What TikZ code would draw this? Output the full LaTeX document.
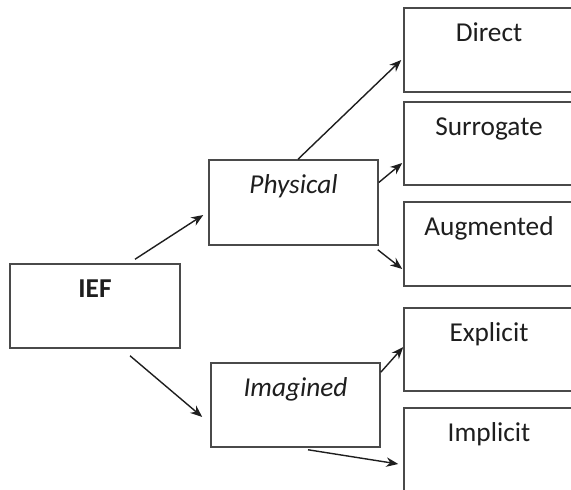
\documentclass[tikz,border=0pt]{standalone}
\usepackage{fontspec}
\setmainfont{Carlito}
\usetikzlibrary{arrows.meta}
\definecolor{boxline}{HTML}{4A4A4A}
\definecolor{ink}{HTML}{1E1E1E}
\begin{document}
\begin{tikzpicture}[x=1pt,y=-1pt,
  box/.style={draw=boxline, line width=1.5pt, rectangle, minimum width=170pt, minimum height=84pt, inner sep=0pt},
  lbl/.style={anchor=base, inner sep=0pt, text=ink, font=\fontsize{27.3}{32}\selectfont},
  link/.style={draw=ink, line width=1.4pt, -{Stealth[length=12pt,width=9.5pt]}}]
  \useasboundingbox (0,0) rectangle (571,490);
  \clip (0,0) rectangle (571,490);
  % boxes
  \node[box] (ief) at (95,306) {};
  \node[box, minimum width=169pt, minimum height=85pt] (phys) at (293.5,202.5) {};
  \node[box, minimum width=169pt] (imag) at (295.5,405) {};
  \node[box] (direct) at (489,50) {};
  \node[box, minimum height=83pt] (surr) at (489,143.5) {};
  \node[box] (aug) at (489,244) {};
  \node[box, minimum height=83pt] (expl) at (489,349.5) {};
  \node[box] (impl) at (489,450) {};
  % labels
  \node[lbl, font=\fontsize{27.3}{32}\selectfont\bfseries] (ief-t) at ([yshift=-34.5pt]ief.north) {IEF};
  \node[lbl, font=\fontsize{27.3}{32}\selectfont\itshape] (phys-t) at ([yshift=-34.5pt]phys.north) {Physical};
  \node[lbl, font=\fontsize{27.3}{32}\selectfont\itshape] (imag-t) at ([yshift=-34.5pt]imag.north) {Imagined};
  \node[lbl] (direct-t) at ([yshift=-34.5pt]direct.north) {Direct};
  \node[lbl] (surr-t) at ([yshift=-34.5pt]surr.north) {Surrogate};
  \node[lbl] (aug-t) at ([yshift=-34pt]aug.north) {Augmented};
  \node[lbl] (expl-t) at ([yshift=-34pt]expl.north) {Explicit};
  \node[lbl] (impl-t) at ([yshift=-34pt]impl.north) {Implicit};
  % connectors
  \draw[link] ([shift={(40,-4)}]ief.north) -- ([shift={(-5,12.5)}]phys.west);
  \draw[link] ([shift={(35,7)}]ief.south) -- ([shift={(-8,12)}]imag.west);
  \draw[link] ([shift={(4.5,0)}]phys.north) -- ([shift={(-2,10)}]direct.west);
  \draw[link] ([shift={(0,-20)}]phys.east) -- ([shift={(-1,19.5)}]surr.west);
  \draw[link] ([shift={(-1,4)}]phys.south east) -- ([shift={(-1,25)}]aug.west);
  \draw[link] ([shift={(0,10)}]imag.north east) -- ([shift={(0,-2.5)}]expl.west);
  \draw[link] ([shift={(12.5,2)}]imag.south) -- ([shift={(-5,14)}]impl.west);
\end{tikzpicture}
\end{document}
